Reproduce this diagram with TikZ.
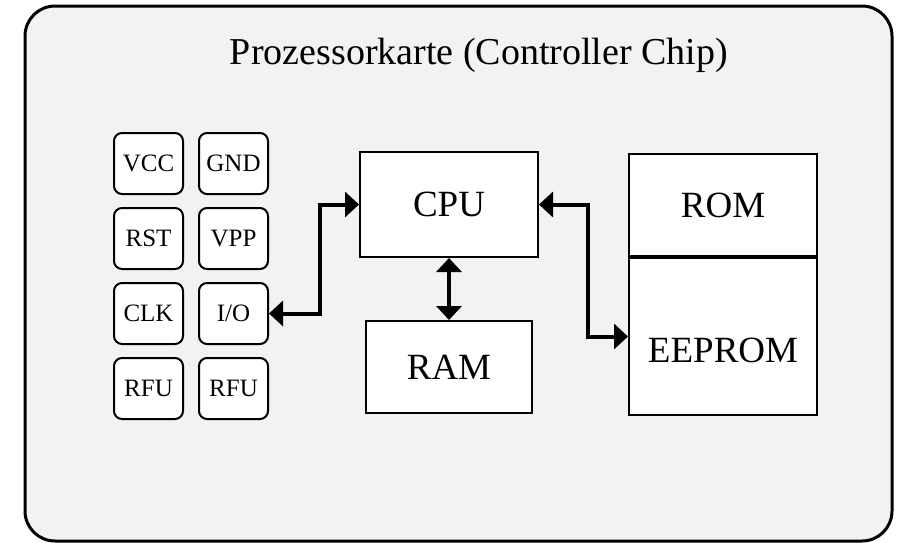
\documentclass[tikz,border=0pt]{standalone}
\usepackage{fontspec}
\setmainfont{Liberation Serif}
\usetikzlibrary{positioning,arrows.meta}

\definecolor{cardgray}{HTML}{F2F2F2}

\begin{document}
\begin{tikzpicture}
        [x=0.5pt,y=-0.5pt,
        card/.style={draw=black,fill=cardgray,line width=1.5pt,rounded corners=15pt},
        pin/.style={draw=black,fill=white,line width=1pt,rounded corners=4pt,
          minimum width=34.5pt,minimum height=30.5pt,inner sep=0pt,
          font=\fontsize{12.5}{14}\selectfont},
        unit/.style={draw=black,fill=white,line width=1pt,inner sep=0pt,
          font=\fontsize{18.5}{21}\selectfont},
        bus/.style={{Triangle[length=7pt,width=12.5pt]}-{Triangle[length=7pt,width=12.5pt]},
          line width=2pt}]
        \useasboundingbox (0,0) rectangle (900,542);
        \draw[card] (25,6) rectangle (892,541);
        \node[font=\fontsize{19}{22}\selectfont] (title) at (479,55) {Prozessorkarte (Controller Chip)};
        % contact pins
        \node[pin] (vcc) at (148.5,163.5) {VCC};
        \node[pin,right=7pt of vcc] (gnd) {GND};
        \node[pin,below=6pt of vcc] (rst) {RST};
        \node[pin,right=7pt of rst] (vpp) {VPP};
        \node[pin,below=6pt of rst] (clk) {CLK};
        \node[pin,right=7pt of clk] (io) {I/O};
        \node[pin,below=6pt of clk] (rfua) {RFU};
        \node[pin,right=7pt of rfua] (rfub) {RFU};
        % chip units
        \node[unit,minimum width=89pt,minimum height=52.5pt] (cpu) at (449,204.5) {CPU};
        \node[unit,minimum width=83pt,minimum height=46pt] (ram) at (449,367) {RAM};
        \node[unit,minimum width=94pt,minimum height=51pt] (rom) at (723,205) {ROM};
        \node[unit,minimum width=94pt,minimum height=78.5pt,anchor=north,
          label={[font=\fontsize{18.5}{21}\selectfont,yshift=-7pt]center:EEPROM}] (eeprom) at (rom.south) {};
        % buses
        \draw[bus] (io.east) -- ++(51,0) |- (cpu.west);
        \draw[bus] (cpu.east) -- ++(49,0) |- (eeprom.west);
        \draw[bus] (cpu.south) -- (ram.north);
\end{tikzpicture}
\end{document}
